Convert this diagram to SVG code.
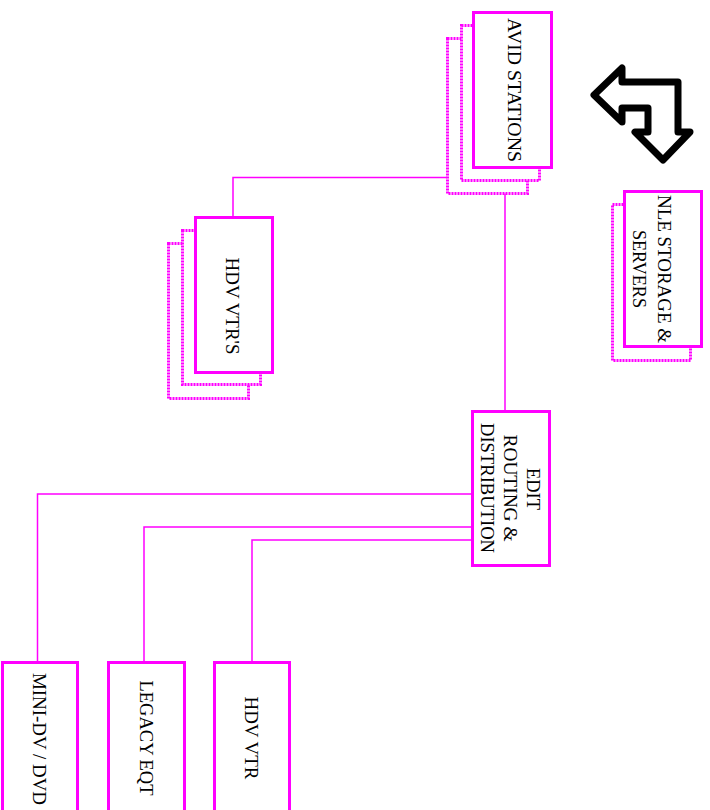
<svg xmlns="http://www.w3.org/2000/svg" width="710" height="810" viewBox="0 0 710 810">
<style>
.box{fill:#fff;stroke:#ff00ff;stroke-width:3}
.shadow{fill:#fff;stroke:#ff00ff;stroke-width:3;stroke-dasharray:2 1}
.conn{fill:none;stroke:#ff00ff;stroke-width:1.5}
.lbl{font-family:"Liberation Serif","DejaVu Serif",serif;font-size:19px;fill:#000;text-anchor:middle}
</style>
<rect width="710" height="810" fill="#fff"/>
<g id="connectors">
<path class="conn" d="M233,217 V177.5 H447"/>
<path class="conn" d="M505,193 V411"/>
<path class="conn" d="M472,494 H37.5 V662"/>
<path class="conn" d="M472,527 H144 V662"/>
<path class="conn" d="M472,540 H252 V662"/>
</g>
<g id="avid-stations">
<rect class="shadow" x="447.5" y="38.5" width="80" height="155"/>
<rect class="shadow" x="461.5" y="25.5" width="78" height="155"/>
<rect class="box" x="473.5" y="12.5" width="78" height="155"/>
<text class="lbl" transform="translate(515,90) rotate(90)" dy="0.35em" textLength="144" lengthAdjust="spacingAndGlyphs">AVID STATIONS</text>
</g>
<g id="nle-storage">
<rect class="shadow" x="612.5" y="204.5" width="78" height="156"/>
<rect class="box" x="624.5" y="191.5" width="77" height="155"/>
<text class="lbl" transform="translate(665,269) rotate(90)" dy="0.35em" textLength="148" lengthAdjust="spacingAndGlyphs">NLE STORAGE &amp;</text>
<text class="lbl" transform="translate(640,269) rotate(90)" dy="0.35em" textLength="78" lengthAdjust="spacingAndGlyphs">SERVERS</text>
</g>
<g id="hdv-vtrs">
<rect class="shadow" x="168.5" y="243.5" width="80" height="155"/>
<rect class="shadow" x="182.5" y="230.5" width="78" height="154"/>
<rect class="box" x="195.5" y="217.5" width="77" height="155"/>
<text class="lbl" transform="translate(233,306) rotate(90)" dy="0.35em" textLength="97" lengthAdjust="spacingAndGlyphs">HDV VTR'S</text>
</g>
<g id="edit-routing">
<rect class="box" x="472.5" y="411.5" width="77" height="154"/>
<text class="lbl" transform="translate(534,489) rotate(90)" dy="0.35em" textLength="42" lengthAdjust="spacingAndGlyphs">EDIT</text>
<text class="lbl" transform="translate(511,488) rotate(90)" dy="0.35em" textLength="107" lengthAdjust="spacingAndGlyphs">ROUTING &amp;</text>
<text class="lbl" transform="translate(488,488) rotate(90)" dy="0.35em" textLength="130" lengthAdjust="spacingAndGlyphs">DISTRIBUTION</text>
</g>
<g id="mini-dv">
<rect class="box" x="2.5" y="662.5" width="75" height="155"/>
<text class="lbl" transform="translate(40,739) rotate(90)" dy="0.35em" textLength="132" lengthAdjust="spacingAndGlyphs">MINI-DV / DVD</text>
</g>
<g id="legacy-eqt">
<rect class="box" x="108.5" y="662.5" width="76" height="155"/>
<text class="lbl" transform="translate(147,738) rotate(90)" dy="0.35em" textLength="115" lengthAdjust="spacingAndGlyphs">LEGACY EQT</text>
</g>
<g id="hdv-vtr">
<rect class="box" x="214.5" y="662.5" width="75" height="155"/>
<text class="lbl" transform="translate(252,738) rotate(90)" dy="0.35em" textLength="83" lengthAdjust="spacingAndGlyphs">HDV VTR</text>
</g>
<g id="bent-arrow">
<path d="M594,95 L622,68 L622,82 L678,82 L678,132 L690,132 L663,160 L635,132 L648,132 L648,108 L622,108 L622,122 Z" fill="#fff" stroke="#000" stroke-width="7" stroke-linejoin="round"/>
</g>
</svg>
